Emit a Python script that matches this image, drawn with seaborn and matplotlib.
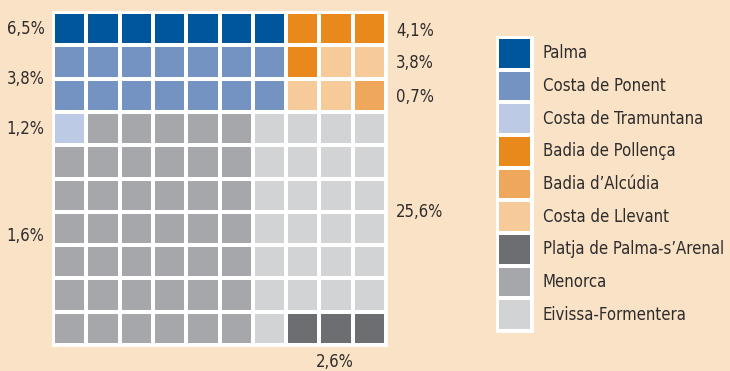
import numpy as np
import pandas as pd
import seaborn as sns
import matplotlib
matplotlib.use("Agg")
import matplotlib.pyplot as plt
from matplotlib.colors import ListedColormap
from matplotlib import font_manager

# Zones and their colours
zones = ["Palma", "Costa de Ponent", "Costa de Tramuntana", "Badia de Pollença",
         "Badia d\u2019Alcúdia", "Costa de Llevant", "Platja de Palma-s\u2019Arenal",
         "Menorca", "Eivissa-Formentera"]
zone_keys = ["P", "W", "T", "B", "A", "L", "S", "M", "E"]
zone_colors = ["#00569A", "#7493C3", "#BDCAE6", "#E9891C", "#EFA75C",
               "#F7CA99", "#6D6E72", "#A6A7AA", "#D2D3D5"]

# 10x10 waffle layout, one letter per cell (see zone_keys)
waffle_rows = [
    "PPPPPPPBBB",
    "WWWWWWWBLL",
    "WWWWWWWLLA",
    "TMMMMMEEEE",
    "MMMMMMEEEE",
    "MMMMMMEEEE",
    "MMMMMMEEEE",
    "MMMMMMEEEE",
    "MMMMMMEEEE",
    "MMMMMMESSS",
]

# Percentage annotations: (text, row position)
left_labels = [("6,5%", 0.5), ("3,8%", 2.0), ("1,2%", 3.5), ("1,6%", 6.73)]
right_labels = [("4,1%", 0.57), ("3,8%", 1.53), ("0,7%", 2.55), ("25,6%", 6.0)]
bottom_label = ("2,6%", 8.47, 10.5)

bg = "#F9E2C6"
txt = "#2E2B2B"

sns.set_style("white")
plt.rcParams["font.family"] = ["DejaVu Sans"]

has_condensed = any(f.name == "DejaVu Sans" and f.stretch in ("condensed", "semi-condensed")
                    for f in font_manager.fontManager.ttflist)
font_kw = dict(fontsize=12, fontstretch="condensed") if has_condensed else dict(fontsize=10.8)

W, H = 730, 371
fig = plt.figure(figsize=(W / 100, H / 100), dpi=100, facecolor=bg)

codes = pd.DataFrame([[zone_keys.index(ch) for ch in row] for row in waffle_rows])
cmap = ListedColormap(zone_colors)

ax = fig.add_axes([53 / W, (H - 345) / H, 333 / W, 333 / H])
sns.heatmap(codes, ax=ax, cmap=cmap, vmin=-0.5, vmax=len(zones) - 0.5,
            linewidths=1.6, linecolor="white", cbar=False,
            xticklabels=False, yticklabels=False)
for s in ax.spines.values():
    s.set_visible(True)
    s.set_color("white")
    s.set_linewidth(2)

for t, r in left_labels:
    ax.text(-0.25, r, t, ha="right", va="center", color=txt, clip_on=False, **font_kw)
for t, r in right_labels:
    ax.text(10.3, r, t, ha="left", va="center", color=txt, clip_on=False, **font_kw)
ax.text(bottom_label[1], bottom_label[2], bottom_label[0], ha="center", va="center",
        color=txt, clip_on=False, **font_kw)

# Legend: a one-column heatmap of swatches plus zone names
lax = fig.add_axes([497 / W, (H - 331) / H, 34.5 / W, 294 / H])
sns.heatmap(pd.DataFrame({"z": range(len(zones))}), ax=lax, cmap=cmap,
            vmin=-0.5, vmax=len(zones) - 0.5, linewidths=1.6, linecolor="white",
            cbar=False, xticklabels=False, yticklabels=False)
for s in lax.spines.values():
    s.set_visible(True)
    s.set_color("white")
    s.set_linewidth(2)
for i, name in enumerate(zones):
    lax.text(1.32, i + 0.5, name, ha="left", va="center",
             color=txt, clip_on=False, **font_kw)

fig.savefig("out.png", dpi=100, facecolor=bg)
